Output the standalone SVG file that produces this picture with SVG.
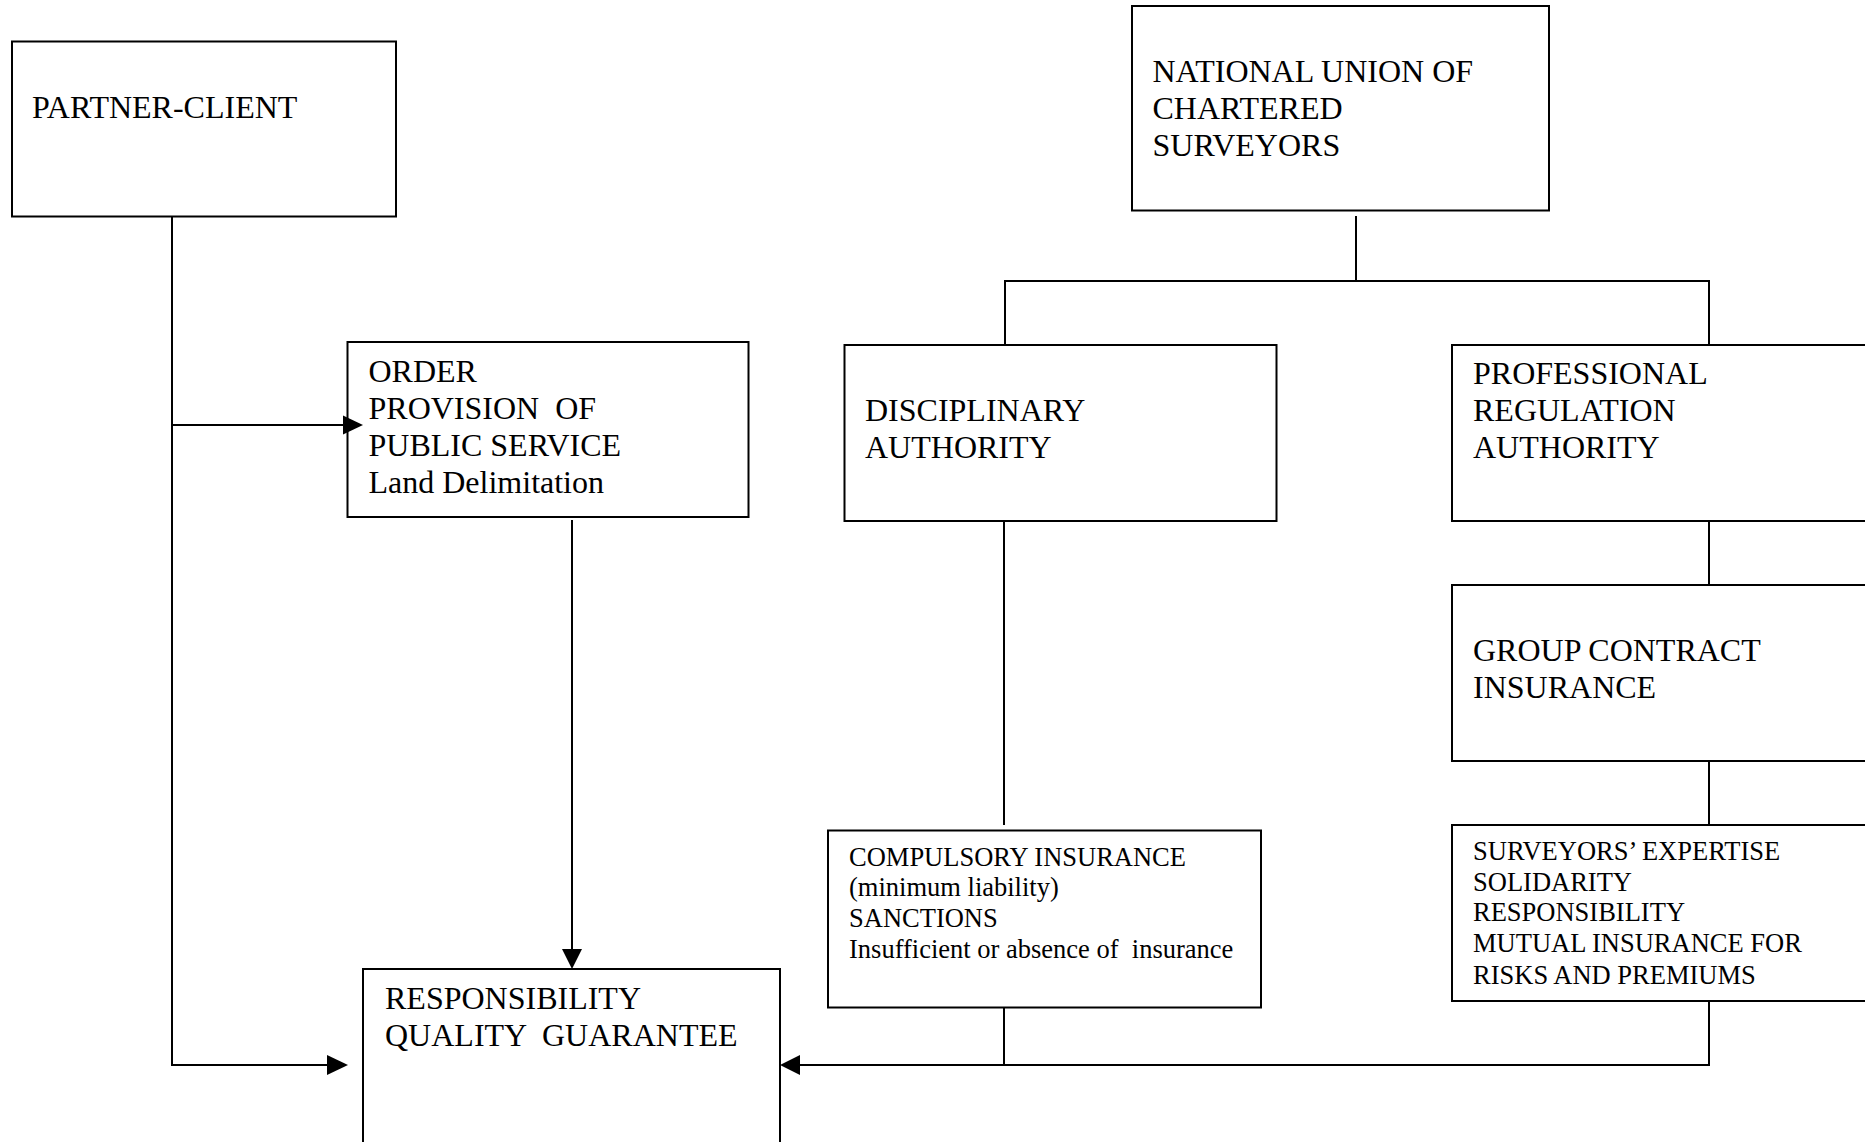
<svg xmlns="http://www.w3.org/2000/svg" width="1865" height="1142" viewBox="0 0 1865 1142">
<defs>
<style>
.box{fill:none;stroke:#000;stroke-width:2}
.t{font-family:"Liberation Serif","Times New Roman",serif;font-size:32px;fill:#000}
.s{font-family:"Liberation Serif","Times New Roman",serif;font-size:26.5px;fill:#000}
.ln{fill:none;stroke:#000;stroke-width:2}
.ah{fill:#000;stroke:none}
</style>
</defs>
<rect width="1865" height="1142" fill="#fff"/>
<g id="partner-client">
<rect class="box" x="12" y="41.5" width="384" height="175"/>
<text class="t" x="32" y="118">PARTNER-CLIENT</text>
</g>
<g id="national-union">
<rect class="box" x="1132" y="6" width="417" height="204.5"/>
<text class="t" x="1152.5" y="82">NATIONAL UNION OF</text>
<text class="t" x="1152.5" y="119">CHARTERED</text>
<text class="t" x="1152.5" y="156">SURVEYORS</text>
</g>
<g id="order">
<rect class="box" x="347.5" y="342" width="401" height="175"/>
<text class="t" x="368.5" y="382">ORDER</text>
<text class="t" x="368.5" y="419" xml:space="preserve">PROVISION  OF</text>
<text class="t" x="368.5" y="456">PUBLIC SERVICE</text>
<text class="t" x="368.5" y="493">Land Delimitation</text>
</g>
<g id="disciplinary">
<rect class="box" x="844.5" y="345" width="432" height="176"/>
<text class="t" x="865" y="421">DISCIPLINARY</text>
<text class="t" x="865" y="458">AUTHORITY</text>
</g>
<g id="professional">
<rect class="box" x="1452" y="345" width="420" height="176"/>
<text class="t" x="1473" y="384">PROFESSIONAL</text>
<text class="t" x="1473" y="421">REGULATION</text>
<text class="t" x="1473" y="458">AUTHORITY</text>
</g>
<g id="group-contract">
<rect class="box" x="1452" y="585" width="420" height="176"/>
<text class="t" x="1473" y="661">GROUP CONTRACT</text>
<text class="t" x="1473" y="698">INSURANCE</text>
</g>
<g id="compulsory">
<rect class="box" x="828" y="830.5" width="433" height="177"/>
<text class="s" x="849" y="865.5">COMPULSORY INSURANCE</text>
<text class="s" x="849" y="896">(minimum liability)</text>
<text class="s" x="849" y="927">SANCTIONS</text>
<text class="s" x="849" y="957.5" xml:space="preserve">Insufficient or absence of  insurance</text>
</g>
<g id="surveyors-expertise">
<rect class="box" x="1452" y="825" width="420" height="176"/>
<text class="s" x="1473" y="860">SURVEYORS’ EXPERTISE</text>
<text class="s" x="1473" y="890.5">SOLIDARITY</text>
<text class="s" x="1473" y="921">RESPONSIBILITY</text>
<text class="s" x="1473" y="951.5">MUTUAL INSURANCE FOR</text>
<text class="s" x="1473" y="984">RISKS AND PREMIUMS</text>
</g>
<g id="responsibility">
<rect class="box" x="363" y="969" width="417" height="190"/>
<text class="t" x="385" y="1009">RESPONSIBILITY</text>
<text class="t" x="385" y="1046" xml:space="preserve">QUALITY  GUARANTEE</text>
</g>
<g id="connectors">
<path class="ln" d="M172,216.5 V1065 H327"/>
<path class="ln" d="M172,425 H343"/>
<path class="ln" d="M572,520 V949"/>
<path class="ln" d="M1356,216 V281"/>
<path class="ln" d="M1005,345 V281 H1709 V345"/>
<path class="ln" d="M1004,521 V825"/>
<path class="ln" d="M1709,521 V585"/>
<path class="ln" d="M1709,761 V825"/>
<path class="ln" d="M1709,1001 V1065 H800"/>
<path class="ln" d="M1004,1007 V1065"/>
<polygon class="ah" points="343,415.5 363,425 343,434.5"/>
<polygon class="ah" points="327,1055 348,1065 327,1075"/>
<polygon class="ah" points="562,949 572,969 582,949"/>
<polygon class="ah" points="800,1055 780,1065 800,1075"/>
</g>
</svg>
